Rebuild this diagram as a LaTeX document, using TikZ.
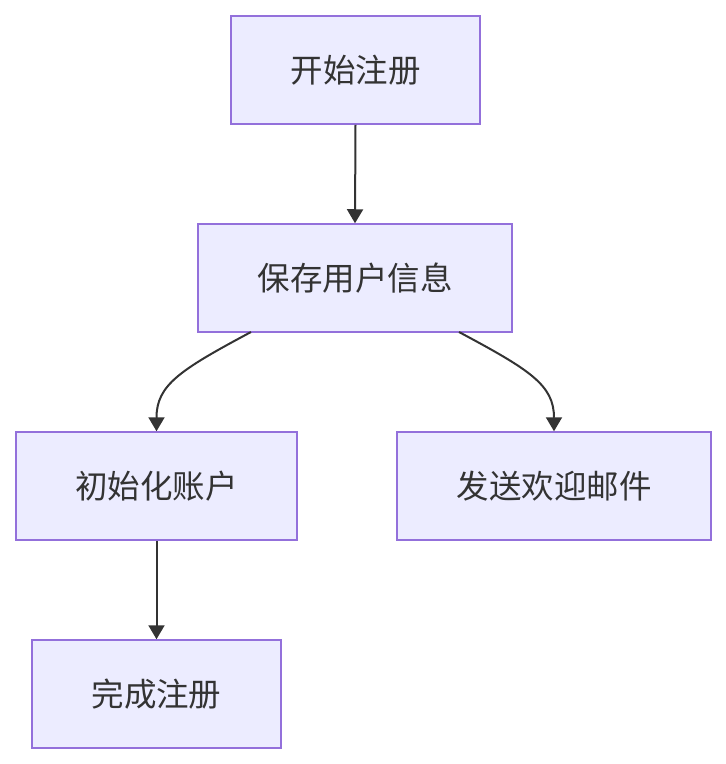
\documentclass[tikz,border=0pt]{standalone}
\usepackage{fontspec}
\newfontfamily\cjk{Noto Sans CJK SC}
\usetikzlibrary{arrows.meta,calc}
\definecolor{nodefill}{HTML}{ECECFF}
\definecolor{nodeline}{HTML}{9370DB}
\definecolor{edgecol}{HTML}{333333}
\begin{document}
\begin{tikzpicture}[x=1pt,y=-1pt,
  box/.style={draw=nodeline,fill=nodefill,line width=1.5pt,inner sep=0pt,
    text=edgecol,font=\cjk\fontsize{32.5}{38}\selectfont},
  edge/.style={draw=edgecol,line width=2pt,-{Triangle[length=14pt,width=16pt]}}]
\useasboundingbox (0,0) rectangle (726,764);
\node[box,minimum width=249pt,minimum height=108pt] (n1) at (355.5,70) {开始注册};
\node[box,minimum width=314pt,minimum height=108pt] (n2) at (355,278) {保存用户信息};
\node[box,minimum width=281pt,minimum height=108pt] (n3) at (156.5,486) {初始化账户};
\node[box,minimum width=314pt,minimum height=108pt] (n4) at (554,486) {发送欢迎邮件};
\node[box,minimum width=249pt,minimum height=108pt] (n5) at (156.5,694) {完成注册};
\coordinate (s2l) at (251,332);
\coordinate (s2r) at (459,332);
\draw[edge] (n1.south) -- (n2.north);
\draw[edge] (s2l) .. controls (180,370) and (156.5,385) .. (n3.north);
\draw[edge] (s2r) .. controls (530,370) and (554,385) .. (n4.north);
\draw[edge] (n3.south) -- (n5.north);
\end{tikzpicture}
\end{document}
